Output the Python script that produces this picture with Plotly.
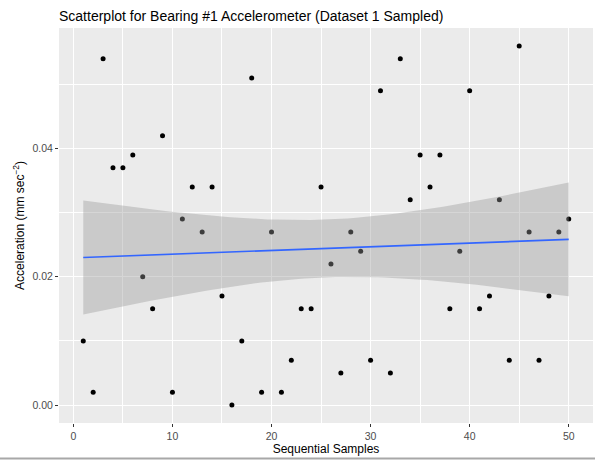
import numpy as np
import plotly.graph_objects as go

# ---- data ----
samples = list(range(1, 51))
accel = [0.010, 0.002, 0.054, 0.037, 0.037, 0.039, 0.020, 0.015, 0.042, 0.002,
         0.029, 0.034, 0.027, 0.034, 0.017, 0.000, 0.010, 0.051, 0.002, 0.027,
         0.002, 0.007, 0.015, 0.015, 0.034, 0.022, 0.005, 0.027, 0.024, 0.007,
         0.049, 0.005, 0.054, 0.032, 0.039, 0.034, 0.039, 0.015, 0.024, 0.049,
         0.015, 0.017, 0.032, 0.007, 0.056, 0.027, 0.007, 0.017, 0.027, 0.029]
x_ticks = [0, 10, 20, 30, 40, 50]
y_ticks = [0.00, 0.02, 0.04]
y_tick_labels = ["0.00", "0.02", "0.04"]

# ---- linear fit with 95% confidence band (like geom_smooth(method='lm')) ----
x = np.array(samples, dtype=float)
y = np.array(accel, dtype=float)
n = len(x)
slope, intercept = np.polyfit(x, y, 1)
resid = y - (intercept + slope * x)
s = np.sqrt(np.sum(resid ** 2) / (n - 2))
xbar = x.mean()
sxx = np.sum((x - xbar) ** 2)
t_crit = 2.0106348  # t(0.975, df=48)
xs = np.linspace(x.min(), x.max(), 80)
yhat = intercept + slope * xs
se = s * np.sqrt(1.0 / n + (xs - xbar) ** 2 / sxx)
upper = yhat + t_crit * se
lower = yhat - t_crit * se

FONT = "Liberation Sans, Arial, sans-serif"

fig = go.Figure()
fig.add_trace(go.Scatter(x=samples, y=accel, mode="markers",
                         marker=dict(color="black", size=5), hoverinfo="x+y"))
fig.add_trace(go.Scatter(x=np.concatenate([xs, xs[::-1]]),
                         y=np.concatenate([upper, lower[::-1]]),
                         fill="toself", fillcolor="rgba(153,153,153,0.4)",
                         line=dict(width=0), mode="lines", hoverinfo="skip"))
fig.add_trace(go.Scatter(x=xs, y=yhat, mode="lines",
                         line=dict(color="#3366FF", width=1.6), hoverinfo="skip"))

fig.update_layout(
    width=595, height=460,
    margin=dict(l=59, r=2, t=28, b=37),
    paper_bgcolor="white", plot_bgcolor="#EBEBEB",
    showlegend=False,
    font=dict(family=FONT, color="black"),
    title=dict(text="Scatterplot for Bearing #1 Accelerometer (Dataset 1 Sampled)",
               x=59 / 595, xref="container", xanchor="left",
               y=1 - 16 / 460, yref="container", yanchor="middle",
               font=dict(size=14, color="black", family=FONT)),
    xaxis=dict(range=[-1.45, 52.45], tickvals=x_ticks, ticktext=[str(v) for v in x_ticks],
               showgrid=True, gridcolor="white", gridwidth=1.3,
               minor=dict(dtick=5, tick0=0, showgrid=True, gridcolor="white", gridwidth=0.6),
               zeroline=False, ticks="outside", ticklen=3, tickcolor="#333333", tickwidth=1,
               tickfont=dict(size=10.5, color="#4D4D4D", family=FONT),
               title=dict(text="Sequential Samples", standoff=3,
                          font=dict(size=12, color="black", family=FONT))),
    yaxis=dict(range=[-0.0028, 0.0588], tickvals=y_ticks, ticktext=y_tick_labels,
               showgrid=True, gridcolor="white", gridwidth=1.3,
               minor=dict(dtick=0.01, tick0=0, showgrid=True, gridcolor="white", gridwidth=0.6),
               zeroline=False, ticks="outside", ticklen=3, tickcolor="#333333", tickwidth=1,
               tickfont=dict(size=10.5, color="#4D4D4D", family=FONT),
               title=dict(text="Acceleration (mm sec<sup>\u22122</sup>)", standoff=5,
                          font=dict(size=12, color="black", family=FONT))),
    shapes=[dict(type="line", xref="paper", yref="paper", x0=-59 / 534, x1=1 + 2 / 534,
                 y0=-35.5 / 395, y1=-35.5 / 395, line=dict(color="#A8A8A8", width=2))],
)

fig.write_html("out.html")
